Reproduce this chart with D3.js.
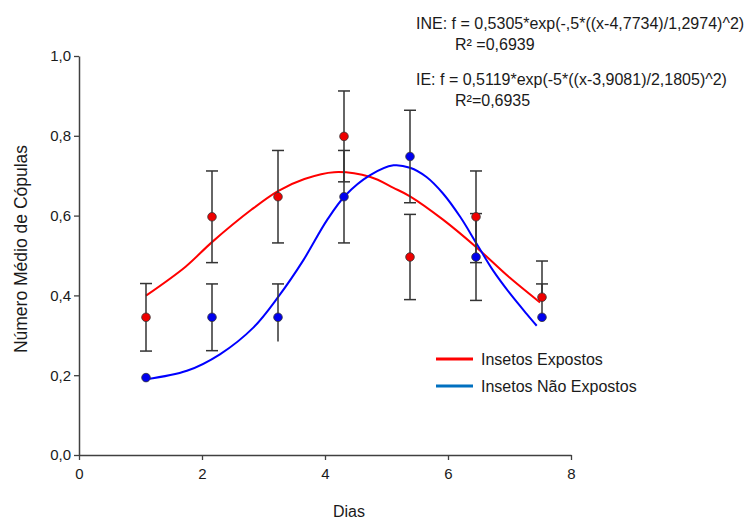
<!DOCTYPE html>
<html><head><meta charset="utf-8">
<script src="https://cdn.jsdelivr.net/npm/d3@7"></script>
<style>
body{margin:0;background:#fff}
svg text{font-family:"Liberation Sans",Arial,sans-serif;fill:#1a1a1a}
</style>
</head><body><svg id="c" width="747" height="520"></svg>
<script>
// ---- data ----
const days = [1, 2, 3, 4, 5, 6, 7];
const expostos = [0.35, 0.60, 0.65, 0.80, 0.50, 0.60, 0.40];
const naoExpostos = [0.20, 0.35, 0.35, 0.65, 0.75, 0.50, 0.35];
const errExpostosHi = [0.084, 0.114, 0.115, 0.113, 0.106, 0.114, 0.09];
const errExpostosLo = [0.084, 0.114, 0.115, 0.113, 0.106, 0.114, 0.0];
const errNaoHi = [0.0, 0.083, 0.083, 0.115, 0.115, 0.108, 0.083];
const errNaoLo = [0.0, 0.083, 0.06, 0.115, 0.115, 0.108, 0.0];
// fitted curves
const fitDiasIE = [1.0, 1.6, 2.0, 2.6, 3.0, 3.4, 3.85, 4.4, 4.75, 5.0, 5.5, 6.0, 6.5, 6.97];
const fitIE = [0.404, 0.476, 0.537, 0.618, 0.664, 0.694, 0.711, 0.699, 0.672, 0.651, 0.593, 0.525, 0.450, 0.387];
const fitDiasINE = [1.0, 1.62, 2.12, 2.63, 3.0, 3.38, 3.74, 4.02, 4.39, 4.75, 5.0, 5.25, 5.5, 5.76, 6.01, 6.26, 6.52, 6.77, 6.92];
const fitINE = [0.196, 0.217, 0.258, 0.325, 0.400, 0.491, 0.591, 0.653, 0.703, 0.728, 0.722, 0.699, 0.658, 0.600, 0.533, 0.466, 0.408, 0.358, 0.329];
const xTicks = [0, 2, 4, 6, 8];
const yTicks = [0, 0.2, 0.4, 0.6, 0.8, 1.0];
const legendLabels = ["Insetos Expostos", "Insetos Não Expostos"];
const eqLines = ["INE: f = 0,5305*exp(-,5*((x-4,7734)/1,2974)^2)", "R² =0,6939",
                 "IE: f = 0,5119*exp(-5*((x-3,9081)/2,1805)^2)", "R²=0,6935"];
const xTitle = "Dias", yTitle = "Número Médio de Cópulas";

// ---- scales ----
const svg = d3.select("#c");
const xAxisS = d3.scaleLinear().domain([0, 8]).range([79, 571]);
const yAxisS = d3.scaleLinear().domain([0, 1]).range([455, 56]);
const x = d3.scaleLinear().domain([1, 7]).range([146, 542]);
const y = d3.scaleLinear().domain([0, 1]).range([458, 56]);
const axisCol = "#404040";
const fmt = d => d3.format(".1f")(d).replace(".", ",");

// axes
const gy = svg.append("g").attr("transform", "translate(79,0)")
  .call(d3.axisLeft(yAxisS).tickValues(yTicks).tickFormat(fmt).tickSize(5).tickSizeOuter(0).tickPadding(3));
const gx = svg.append("g").attr("transform", "translate(0,455)")
  .call(d3.axisBottom(xAxisS).tickValues(xTicks).tickFormat(d3.format("d")).tickSize(5).tickSizeOuter(0).tickPadding(8));
[gx, gy].forEach(g => {
  g.select(".domain").attr("stroke", axisCol).attr("stroke-width", 1.5);
  g.selectAll(".tick line").attr("stroke", axisCol).attr("stroke-width", 1.3);
  g.selectAll(".tick text").attr("font-size", 15).attr("fill", "#1a1a1a")
   .style("font-family", '"Liberation Sans",Arial,sans-serif');
});

svg.append("text").attr("x", 349).attr("y", 517).attr("text-anchor", "middle")
  .attr("font-size", 16).text(xTitle);
svg.append("text").attr("transform", "translate(27,249) rotate(-90)")
  .attr("text-anchor", "middle").attr("font-size", 17.5).text(yTitle);

// fitted lines
const line = d3.line().x(d => x(d[0])).y(d => y(d[1])).curve(d3.curveCatmullRom.alpha(0.5));
svg.append("path").datum(d3.zip(fitDiasIE, fitIE)).attr("d", line)
  .attr("fill", "none").attr("stroke", "#ff0000").attr("stroke-width", 2);
svg.append("path").datum(d3.zip(fitDiasINE, fitINE)).attr("d", line)
  .attr("fill", "none").attr("stroke", "#0000ff").attr("stroke-width", 2);

// error bars
function errBars(vals, hi, lo) {
  const g = svg.append("g").attr("stroke", "#333").attr("stroke-width", 1.5);
  days.forEach((d, i) => {
    const cx = x(d);
    if (hi[i] > 0) {
      g.append("line").attr("x1", cx).attr("x2", cx).attr("y1", y(vals[i])).attr("y2", y(vals[i] + hi[i]));
      g.append("line").attr("x1", cx - 6).attr("x2", cx + 6).attr("y1", y(vals[i] + hi[i])).attr("y2", y(vals[i] + hi[i]));
    }
    if (lo[i] > 0) {
      g.append("line").attr("x1", cx).attr("x2", cx).attr("y1", y(vals[i])).attr("y2", y(vals[i] - lo[i]));
      if (lo[i] > 0.07)
        g.append("line").attr("x1", cx - 6).attr("x2", cx + 6).attr("y1", y(vals[i] - lo[i])).attr("y2", y(vals[i] - lo[i]));
    }
  });
}
errBars(expostos, errExpostosHi, errExpostosLo);
errBars(naoExpostos, errNaoHi, errNaoLo);

// points
function pts(vals, col) {
  svg.append("g").selectAll("circle").data(days).join("circle")
    .attr("cx", d => x(d)).attr("cy", (d, i) => y(vals[i])).attr("r", 4.3)
    .attr("fill", col).attr("stroke", "#333").attr("stroke-width", 0.8);
}
pts(expostos, "#ee0000");
pts(naoExpostos, "#0000ee");

// legend
const legCols = ["#ff0000", "#0070c0"];
legendLabels.forEach((t, i) => {
  const ly = 359 + i * 27;
  svg.append("line").attr("x1", 436).attr("x2", 473).attr("y1", ly).attr("y2", ly)
    .attr("stroke", legCols[i]).attr("stroke-width", 3);
  svg.append("text").attr("x", 481).attr("y", ly + 6).attr("font-size", 16).text(t);
});

// equations
const eqX = [416, 455, 416, 455], eqY = [29, 50, 85, 106];
eqLines.forEach((t, i) => {
  svg.append("text").attr("x", eqX[i]).attr("y", eqY[i]).attr("font-size", 16).text(t);
});
</script></body></html>
